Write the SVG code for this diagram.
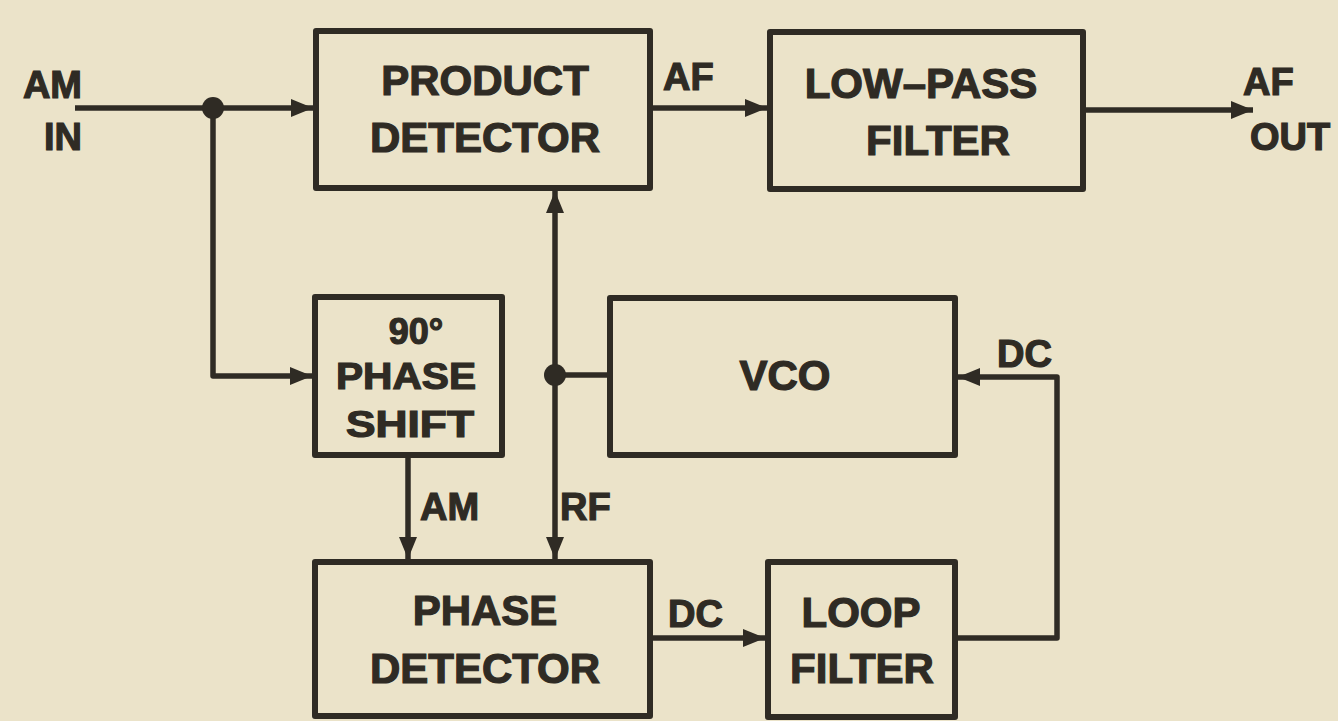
<svg xmlns="http://www.w3.org/2000/svg" width="1338" height="721" viewBox="0 0 1338 721">
<style>
.box{fill:none;stroke:#2f2b24;stroke-width:6;stroke-linejoin:round}
.ln{fill:none;stroke:#2f2b24;stroke-width:5.5;stroke-linejoin:round}
.t{font-family:"Liberation Sans",Arial,sans-serif;font-weight:bold;font-size:42px;fill:#2f2b24;stroke:#2f2b24;stroke-width:1.2;text-anchor:middle}
.ts{font-family:"Liberation Sans",Arial,sans-serif;font-weight:bold;font-size:36px;fill:#2f2b24;stroke:#2f2b24;stroke-width:1.2;text-anchor:middle}
.lb{font-family:"Liberation Sans",Arial,sans-serif;font-weight:bold;font-size:38px;fill:#2f2b24;stroke:#2f2b24;stroke-width:1.2}
.dot{fill:#2f2b24}
</style>
<defs>
<marker id="ah" markerUnits="userSpaceOnUse" markerWidth="24" markerHeight="20" refX="22" refY="9" orient="auto">
<path d="M0,0 L22,9 L0,18 z" fill="#2f2b24"/>
</marker>
</defs>
<rect width="1338" height="721" fill="#ebe3c9"/>

<g id="connectors">
<path class="ln" d="M75,108 H313" marker-end="url(#ah)"/>
<path class="ln" d="M213,108 V376 H312" marker-end="url(#ah)"/>
<path class="ln" d="M650,108 H767" marker-end="url(#ah)"/>
<path class="ln" d="M1083,110 H1253" marker-end="url(#ah)"/>
<path class="ln" d="M610,375 H555"/>
<path class="ln" d="M555,375 V191" marker-end="url(#ah)"/>
<path class="ln" d="M555,375 V559" marker-end="url(#ah)"/>
<path class="ln" d="M408,455 V559" marker-end="url(#ah)"/>
<path class="ln" d="M650,638 H765" marker-end="url(#ah)"/>
<path class="ln" d="M955,638 H1057 V377 H958" marker-end="url(#ah)"/>
<circle class="dot" cx="213" cy="108" r="11"/>
<circle class="dot" cx="555" cy="375" r="11"/>
<text class="lb" x="82" y="98" text-anchor="end">AM</text>
<text class="lb" x="82" y="150" text-anchor="end">IN</text>
<text class="lb" x="663" y="90">AF</text>
<text class="lb" x="1243" y="95">AF</text>
<text class="lb" x="1250" y="150">OUT</text>
<text class="lb" x="997" y="367">DC</text>
<text class="lb" x="420" y="520">AM</text>
<text class="lb" x="560" y="520">RF</text>
<text class="lb" x="668" y="627">DC</text>
</g>

<g id="product-detector">
<rect class="box" x="316" y="31" width="334" height="157"/>
<text class="t" x="485" y="95">PRODUCT</text>
<text class="t" x="485" y="152">DETECTOR</text>
</g>

<g id="low-pass-filter">
<rect class="box" x="770" y="32" width="313" height="157"/>
<text class="t" x="921" y="98">LOW–PASS</text>
<text class="t" x="938" y="155">FILTER</text>
</g>

<g id="phase-shift">
<rect class="box" x="315" y="297" width="187" height="158"/>
<text class="ts" x="416" y="344">90°</text>
<text class="ts" x="406" y="389" textLength="140" lengthAdjust="spacingAndGlyphs">PHASE</text>
<text class="ts" x="410" y="437" textLength="128" lengthAdjust="spacingAndGlyphs">SHIFT</text>
</g>

<g id="vco">
<rect class="box" x="610" y="298" width="345" height="157"/>
<text class="t" x="785" y="390">VCO</text>
</g>

<g id="phase-detector">
<rect class="box" x="315" y="562" width="335" height="154"/>
<text class="t" x="485" y="625">PHASE</text>
<text class="t" x="485" y="683">DETECTOR</text>
</g>

<g id="loop-filter">
<rect class="box" x="768" y="562" width="187" height="155"/>
<text class="t" x="861" y="627">LOOP</text>
<text class="t" x="862" y="683">FILTER</text>
</g>
</svg>
